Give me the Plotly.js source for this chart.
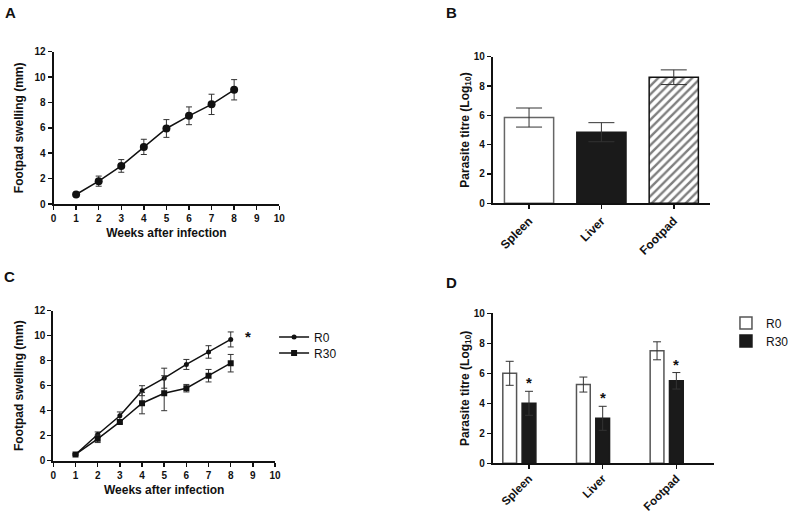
<!DOCTYPE html>
<html>
<head>
<meta charset="utf-8">
<script src="https://cdn.plot.ly/plotly-3.0.1.min.js"></script>
<style>html,body{margin:0;padding:0;background:#fff;}#chart{width:794px;height:514px;}</style>
</head>
<body>
<div id="chart"></div>
<script>
// ---- data ----
const weeks = [1, 2, 3, 4, 5, 6, 7, 8];
const swellA = [0.75, 1.8, 3.0, 4.5, 5.95, 6.95, 7.85, 9.0];
const swellAErr = [0.1, 0.4, 0.5, 0.6, 0.7, 0.7, 0.8, 0.8];
const swellR0 = [0.5, 2.1, 3.6, 5.6, 6.6, 7.7, 8.7, 9.7];
const swellR0Err = [0.05, 0.2, 0.3, 0.4, 0.8, 0.4, 0.5, 0.6];
const swellR30 = [0.5, 1.75, 3.1, 4.6, 5.4, 5.8, 6.8, 7.8];
const swellR30Err = [0.05, 0.3, 0.1, 0.85, 1.4, 0.3, 0.5, 0.7];
const organs = ['Spleen', 'Liver', 'Footpad'];
const titreB = [5.85, 4.85, 8.6];
const titreBErr = [0.65, 0.65, 0.5];
const titreR0 = [6.0, 5.25, 7.5];
const titreR0Err = [0.8, 0.5, 0.6];
const titreR30 = [4.0, 3.0, 5.5];
const titreR30Err = [0.8, 0.8, 0.55];
const seriesNames = ['R0', 'R30'];
const xTicks = [0, 1, 2, 3, 4, 5, 6, 7, 8, 9, 10];

const FONT = 'Arial, "Liberation Sans", sans-serif';
const W = 794, H = 514;
const px = (a, b) => [a / W, b / W];
const py = (top, bottom) => [1 - bottom / H, 1 - top / H];

const tickFont = {family: FONT, size: 10, color: '#111', weight: 'bold'};
const titleFont = {family: FONT, size: 12, color: '#111', weight: 'bold'};
const catFont = {family: FONT, size: 12, color: '#111', weight: 'bold'};
const catFontD = {family: FONT, size: 11.5, color: '#111', weight: 'bold'};

function axisBase(extra) {
  return Object.assign({
    showline: true, linecolor: '#111', linewidth: 2,
    ticks: 'outside', ticklen: 4, tickwidth: 1.5, tickcolor: '#111',
    showgrid: false, zeroline: false, tickfont: tickFont, fixedrange: true
  }, extra);
}

const errStyle = (arr, w) => ({type: 'data', array: arr, visible: true, color: '#333', thickness: 1, width: w});

const traces = [
  // A
  {x: weeks, y: swellA, type: 'scatter', mode: 'lines+markers', xaxis: 'x', yaxis: 'y',
   line: {color: '#111', width: 1.5}, marker: {symbol: 'circle', size: 8, color: '#111'},
   error_y: errStyle(swellAErr, 3), showlegend: false},
  // B : spleen + liver
  {x: organs.slice(0, 2), y: titreB.slice(0, 2), type: 'bar', xaxis: 'x2', yaxis: 'y2',
   width: 0.68, offset: -0.34,
   marker: {color: ['#ffffff', '#1a1a1a'], line: {color: ['#666', '#1a1a1a'], width: 1.5}},
   error_y: errStyle(titreBErr.slice(0, 2), 13), showlegend: false},
  // B : footpad (hatched)
  {x: organs.slice(2), y: titreB.slice(2), type: 'bar', xaxis: 'x2', yaxis: 'y2',
   width: 0.68, offset: -0.34,
   marker: {color: '#ffffff', line: {color: '#111', width: 1.5},
            pattern: {shape: '/', fgcolor: '#000', bgcolor: '#ffffff', fillmode: 'overlay', size: 6, solidity: 0.4}},
   error_y: errStyle(titreBErr.slice(2), 13), showlegend: false},
  // C
  {x: weeks, y: swellR0, type: 'scatter', mode: 'lines+markers', xaxis: 'x3', yaxis: 'y3', name: seriesNames[0],
   line: {color: '#111', width: 1.5}, marker: {symbol: 'circle', size: 5, color: '#111'},
   error_y: errStyle(swellR0Err, 3), legend: 'legend'},
  {x: weeks, y: swellR30, type: 'scatter', mode: 'lines+markers', xaxis: 'x3', yaxis: 'y3', name: seriesNames[1],
   line: {color: '#111', width: 1.5}, marker: {symbol: 'square', size: 6, color: '#111'},
   error_y: errStyle(swellR30Err, 3), legend: 'legend2'},
  // D
  {x: organs, y: titreR0, type: 'bar', xaxis: 'x4', yaxis: 'y4', name: seriesNames[0],
   width: 0.187, offset: -0.355,
   marker: {color: '#ffffff', line: {color: '#555', width: 1.5}},
   error_y: errStyle(titreR0Err, 4), legend: 'legend3'},
  {x: organs, y: titreR30, type: 'bar', xaxis: 'x4', yaxis: 'y4', name: seriesNames[1],
   width: 0.187, offset: -0.093,
   marker: {color: '#1a1a1a', line: {color: '#1a1a1a', width: 1.5}},
   error_y: errStyle(titreR30Err, 4), legend: 'legend4'}
];

const stars = organs.map((o, i) => ({
  x: o, y: titreR30[i] + titreR30Err[i], xref: 'x4', yref: 'y4', text: '*', showarrow: false,
  xshift: 0, yanchor: 'bottom', yshift: -2, font: {family: FONT, size: 15, color: '#111', weight: 'bold'}
}));

const panelLetter = (t, x, y) => ({text: t, x: x / W, y: 1 - y / H, xref: 'paper', yref: 'paper',
  showarrow: false, xanchor: 'left', yanchor: 'middle', font: {family: FONT, size: 15, color: '#111', weight: 'bold'}});

const legendAt = (x, y) => ({x: x / W, y: 1 - y / H, xanchor: 'left', yanchor: 'middle',
  bgcolor: 'rgba(0,0,0,0)', font: {family: FONT, size: 12, color: '#111'}, itemwidth: 30});

const layout = {
  width: W, height: H, margin: {l: 0, r: 0, t: 0, b: 0},
  paper_bgcolor: '#fff', plot_bgcolor: 'rgba(0,0,0,0)',
  barmode: 'group',
  font: {family: FONT, color: '#111'},
  xaxis: axisBase({domain: px(54.5, 284.3), anchor: 'y', range: [0, 10], tickvals: xTicks,
    title: {text: 'Weeks after infection', font: titleFont, standoff: 6}}),
  yaxis: axisBase({domain: py(51.7, 204), anchor: 'x', range: [0, 12], dtick: 2,
    title: {text: 'Footpad swelling (mm)', font: titleFont, standoff: 8}}),
  xaxis2: axisBase({domain: px(501.7, 722.7), anchor: 'y2', type: 'category', range: [-0.5, 2.5],
    tickangle: -45, tickfont: catFont}),
  yaxis2: axisBase({domain: py(56.7, 203.3), anchor: 'x2', range: [0, 10], dtick: 2,
    title: {text: 'Parasite titre (Log<sub>10</sub>)', font: titleFont, standoff: 2}}),
  xaxis3: axisBase({domain: px(54.3, 280), anchor: 'y3', range: [0, 10], tickvals: xTicks,
    title: {text: 'Weeks after infection', font: titleFont, standoff: 6}}),
  yaxis3: axisBase({domain: py(310.7, 460.7), anchor: 'x3', range: [0, 12], dtick: 2,
    title: {text: 'Footpad swelling (mm)', font: titleFont, standoff: 8}}),
  xaxis4: axisBase({domain: px(501.7, 726.7), anchor: 'y4', type: 'category', range: [-0.49, 2.51],
    tickangle: -45, tickfont: catFontD, ticklabelstandoff: -2}),
  yaxis4: axisBase({domain: py(313.3, 463.3), anchor: 'x4', range: [0, 10], dtick: 2,
    title: {text: 'Parasite titre (Log<sub>10</sub>)', font: titleFont, standoff: 2}}),
  legend: legendAt(279, 337),
  legend2: legendAt(279, 353),
  legend3: legendAt(739, 323),
  legend4: legendAt(739, 341),
  annotations: [
    panelLetter('A', 3, 12), panelLetter('B', 452, 12),
    panelLetter('C', 2, 276), panelLetter('D', 452, 282),
    {x: 8.8, y: 9.9, xref: 'x3', yref: 'y3', text: '*', showarrow: false,
     font: {family: FONT, size: 15, color: '#111', weight: 'bold'}}
  ].concat(stars)
};

Plotly.newPlot('chart', traces, layout, {displayModeBar: false, staticPlot: true});
</script>
</body>
</html>
